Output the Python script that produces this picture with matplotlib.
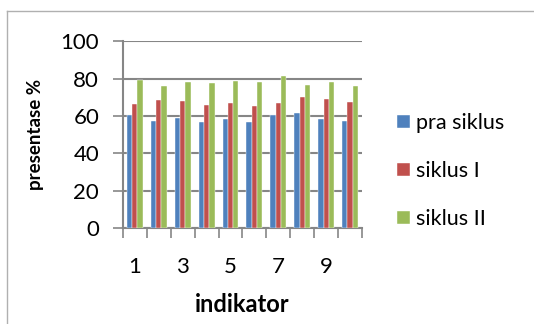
import matplotlib.pyplot as plt
import numpy as np

plt.rcParams["font.family"] = ["Lato", "DejaVu Sans"]

indikator = np.arange(1, 11)
pra_siklus = [60.4, 57.4, 58.8, 56.7, 58.3, 56.7, 60.4, 61.7, 58.5, 57.4]
siklus_1 = [66.3, 68.4, 67.9, 65.8, 66.8, 65.2, 67.0, 70.2, 69.0, 67.4]
siklus_2 = [79.1, 75.8, 78.3, 77.4, 78.6, 78.1, 81.3, 76.8, 77.9, 75.9]
series = [("pra siklus", pra_siklus, "#4F81BD"),
          ("siklus I", siklus_1, "#C0504D"),
          ("siklus II", siklus_2, "#9BBB59")]

fig = plt.figure(figsize=(5.34, 3.24), dpi=100)
ax = fig.add_axes([0.230, 0.296, 0.448, 0.577])

# outer chart border (left and top visible)
fig.add_artist(plt.Line2D([0.013, 0.013], [0, 0.966], color="#b0b0b0", lw=1))
fig.add_artist(plt.Line2D([0.013, 1.0], [0.966, 0.966], color="#b0b0b0", lw=1))

w = 0.222
for i, (name, vals, col) in enumerate(series):
    ax.bar(indikator + (i - 1) * w, vals, width=w, color=col, label=name,
           edgecolor="white", linewidth=0.3, zorder=3)

ax.set_xlim(0.5, 10.5)
ax.set_ylim(0, 100)
ax.set_yticks(range(0, 101, 20))
ax.yaxis.grid(True, color="#868686", lw=1.5, zorder=0)
ax.set_axisbelow(True)

ax.set_xticks([1, 3, 5, 7, 9])
ax.set_xticks(np.arange(0.5, 11, 1), minor=True)
ax.tick_params(axis="x", which="major", length=0, pad=21, labelsize=16)
ax.tick_params(axis="x", which="minor", length=7, width=1.2, color="#868686")
ax.tick_params(axis="y", length=7, width=1.2, color="#868686", labelsize=16, pad=10)

for s in ["top", "right"]:
    ax.spines[s].set_visible(False)
for s in ["left", "bottom"]:
    ax.spines[s].set_color("#868686")
    ax.spines[s].set_linewidth(1.5)

ax.set_xlabel("indikator", fontsize=17, fontweight="bold", labelpad=11)
ax.set_ylabel("presentase %", fontsize=13.5, fontweight="bold", labelpad=12)

ax.legend(loc="center left", bbox_to_anchor=(1.146, 0.305), frameon=False,
          fontsize=15.5, handlelength=0.6, handleheight=0.6, handletextpad=0.3,
          labelspacing=1.3, borderpad=0, borderaxespad=0)

fig.savefig("out.png", dpi=100)
